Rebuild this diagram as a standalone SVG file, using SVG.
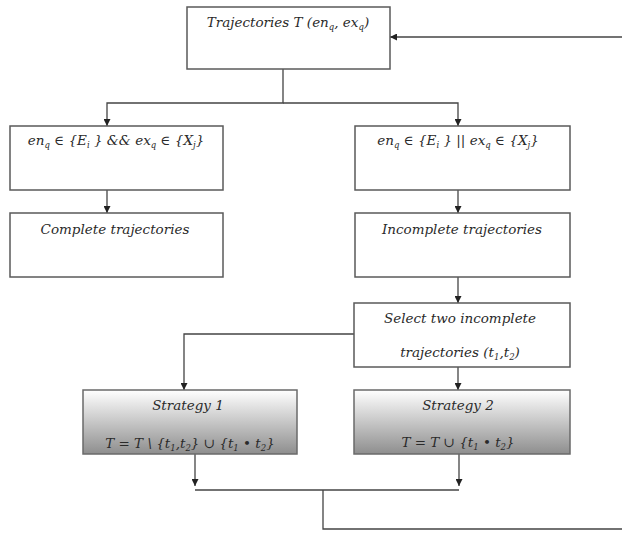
<svg xmlns="http://www.w3.org/2000/svg" width="622" height="533" viewBox="0 0 622 533">
<style>
.box{fill:#fff;stroke:#5a5a5a;stroke-width:1.5}
.g{fill:url(#grad);stroke:#6a6a6a;stroke-width:1.5}
.t{font-family:"DejaVu Serif","Liberation Serif",serif;font-style:italic;font-size:13.5px;fill:#2a2a2a;text-anchor:middle}
.s{font-size:8.5px}
.c{fill:none;stroke:#444;stroke-width:1.3}
</style>
<defs>
<linearGradient id="grad" x1="0" y1="0" x2="0" y2="1">
<stop offset="0" stop-color="#ffffff"/>
<stop offset="1" stop-color="#8e8e8e"/>
</linearGradient>
<marker id="ar" viewBox="0 0 10 10" refX="10" refY="5" markerWidth="7" markerHeight="7" orient="auto" markerUnits="userSpaceOnUse">
<path d="M0,0 L10,5 L0,10 z" fill="#222"/>
</marker>
</defs>
<g id="connectors">
<path class="c" d="M622,37 H390" marker-end="url(#ar)"/>
<path class="c" d="M283,69 V103 H107 V126" marker-end="url(#ar)"/>
<path class="c" d="M283,103 H458 V126" marker-end="url(#ar)"/>
<path class="c" d="M107,190 V213" marker-end="url(#ar)"/>
<path class="c" d="M458,190 V213" marker-end="url(#ar)"/>
<path class="c" d="M458,277 V303" marker-end="url(#ar)"/>
<path class="c" d="M354,334 H184 V390" marker-end="url(#ar)"/>
<path class="c" d="M458,367 V390" marker-end="url(#ar)"/>
<path class="c" d="M195,454 V486" marker-end="url(#ar)"/>
<path class="c" d="M459,454 V486" marker-end="url(#ar)"/>
<path class="c" d="M195,490 H459"/>
<path class="c" d="M323,490 V529 H622"/>
</g>
<g id="n_traj">
<rect class="box" x="187" y="7" width="203" height="62"/>
<text class="t" x="288" y="27">Trajectories T (en<tspan class="s" dy="3">q</tspan><tspan dy="-3">, ex</tspan><tspan class="s" dy="3">q</tspan><tspan dy="-3">)</tspan></text>
</g>
<g id="n_cond1">
<rect class="box" x="10" y="126" width="213" height="64"/>
<text class="t" x="116" y="145">en<tspan class="s" dy="3">q</tspan><tspan dy="-3"> ∈ {E</tspan><tspan class="s" dy="3">i</tspan><tspan dy="-3"> } &amp;&amp; ex</tspan><tspan class="s" dy="3">q</tspan><tspan dy="-3"> ∈ {X</tspan><tspan class="s" dy="3">j</tspan><tspan dy="-3">}</tspan></text>
</g>
<g id="n_cond2">
<rect class="box" x="355" y="126" width="215" height="64"/>
<text class="t" x="458" y="145">en<tspan class="s" dy="3">q</tspan><tspan dy="-3"> ∈ {E</tspan><tspan class="s" dy="3">i</tspan><tspan dy="-3"> } || ex</tspan><tspan class="s" dy="3">q</tspan><tspan dy="-3"> ∈ {X</tspan><tspan class="s" dy="3">j</tspan><tspan dy="-3">}</tspan></text>
</g>
<g id="n_complete">
<rect class="box" x="10" y="213" width="213" height="64"/>
<text class="t" x="115" y="234">Complete trajectories</text>
</g>
<g id="n_incomplete">
<rect class="box" x="355" y="213" width="215" height="64"/>
<text class="t" x="462" y="234">Incomplete trajectories</text>
</g>
<g id="n_select">
<rect class="box" x="354" y="303" width="216" height="64"/>
<text class="t" x="460" y="323">Select two incomplete</text>
<text class="t" x="460" y="357">trajectories (t<tspan class="s" dy="3">1</tspan><tspan dy="-3">,t</tspan><tspan class="s" dy="3">2</tspan><tspan dy="-3">)</tspan></text>
</g>
<g id="n_strat1">
<rect class="g" x="83" y="390" width="214" height="64"/>
<text class="t" x="188" y="410">Strategy 1</text>
<text class="t" x="190" y="448">T = T \ {t<tspan class="s" dy="3">1</tspan><tspan dy="-3">,t</tspan><tspan class="s" dy="3">2</tspan><tspan dy="-3">} ∪ {t</tspan><tspan class="s" dy="3">1</tspan><tspan dy="-3"> • t</tspan><tspan class="s" dy="3">2</tspan><tspan dy="-3">}</tspan></text>
</g>
<g id="n_strat2">
<rect class="g" x="354" y="390" width="216" height="64"/>
<text class="t" x="458" y="410">Strategy 2</text>
<text class="t" x="458" y="447">T = T ∪ {t<tspan class="s" dy="3">1</tspan><tspan dy="-3"> • t</tspan><tspan class="s" dy="3">2</tspan><tspan dy="-3">}</tspan></text>
</g>
</svg>
